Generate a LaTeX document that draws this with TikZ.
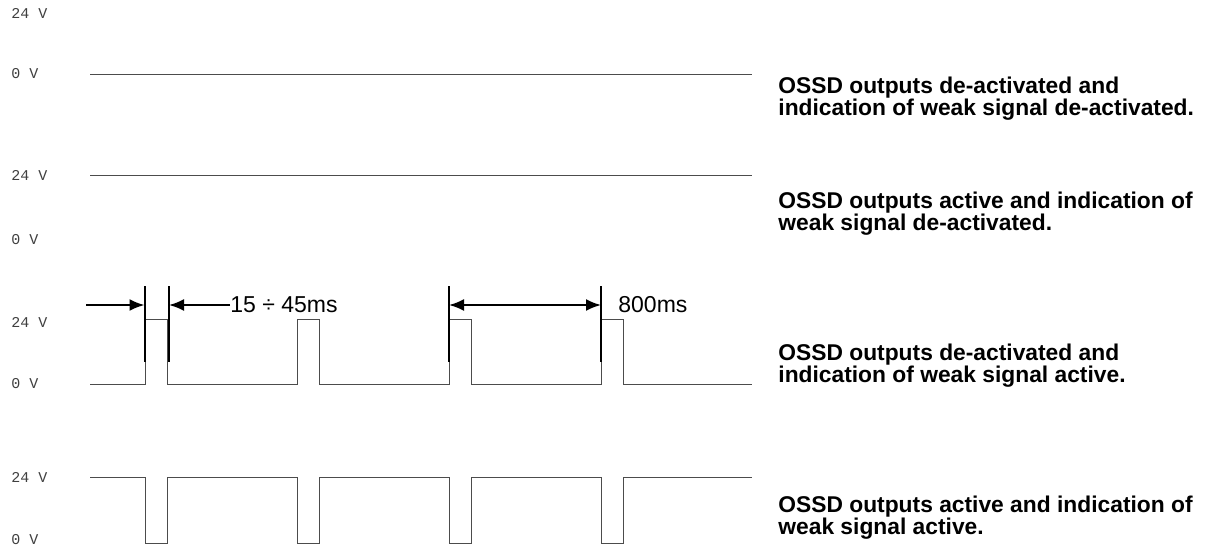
\documentclass[tikz,border=0pt]{standalone}
\usepackage{fontspec}
\setmainfont{Liberation Sans}
\newfontfamily\voltfont{Liberation Mono}
\usetikzlibrary{arrows.meta}

\begin{document}
\begin{tikzpicture}[
  x=0.5pt, y=-0.5pt,
  sig/.style={black!70, line width=0.5pt},
  ext/.style={black, line width=1pt},
  arr/.style={-{Latex[length=7.5pt, width=6pt]}, black, line width=1pt},
  dim/.style={{Latex[length=7.5pt, width=6pt]}-{Latex[length=7.5pt, width=6pt]}, black, line width=1pt},
  volt/.style={font=\voltfont\fontsize{7.5}{8}\selectfont, text=black!75, anchor=west, inner sep=0pt},
  desc/.style={font=\fontsize{11.4}{11}\selectfont\bfseries, align=left, anchor=base west, inner sep=0pt},
  val/.style={font=\fontsize{11.5}{12}\selectfont, anchor=west, inner sep=0pt}
]
\useasboundingbox (0,0) rectangle (1219,547);

% voltage levels
\foreach \y/\v [count=\i] in {13/24,74/0,175/24,240/0,322/24,384/0,477/24,540/0}
  \node[volt] (v\i) at (11,\y) {\v\ V};

% signals
\draw[sig] (90,74) -- (752,74);
\draw[sig] (90,175) -- (752,175);
\draw[sig] (90,384) \foreach \p in {145,297,449,601}
  { -- (\p,384) -- (\p,319) -- ({\p+22},319) -- ({\p+22},384) } -- (752,384);
\draw[sig] (90,477) \foreach \p in {145,297,449,601}
  { -- (\p,477) -- (\p,543) -- ({\p+22},543) -- ({\p+22},477) } -- (752,477);

% dimension lines
\foreach \n/\x in {ea/144.5,eb/169,ec/449,ed/601} {
  \coordinate (\n t) at (\x,286);
  \coordinate (\n b) at (\x,362);
  \coordinate (\n m) at (\x,305);
  \draw[ext] (\n t) -- (\n b);
}
\coordinate (pin) at (86,305);
\node[val] (pw) at (230,305) {15 \char"00F7\ 45ms};
\node[val] (per) at (618,305) {800ms};
\draw[arr] (pin) -- (eam);
\draw[arr] (pw.west) -- (ebm);
\draw[dim] (ecm) -- (edm);

% states
\node[desc] (s1) at (778,115) {OSSD outputs de-activated and\\indication of weak signal de-activated.};
\node[desc] (s2) at (778,230) {OSSD outputs active and indication of\\weak signal de-activated.};
\node[desc] (s3) at (778,382) {OSSD outputs de-activated and\\indication of weak signal active.};
\node[desc] (s4) at (778,534) {OSSD outputs active and indication of\\weak signal active.};
\end{tikzpicture}
\end{document}
